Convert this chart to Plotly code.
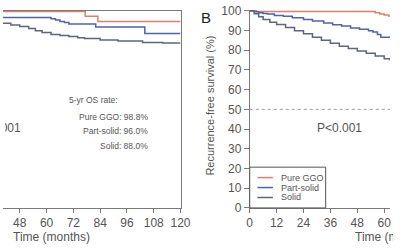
import plotly.graph_objects as go

# ---- Data ----
# Panel A (overall survival), visible part only (months 40-120)
os_ggo_t = [40, 77.3, 83.0, 120]
os_ggo_v = [99.6, 97.2, 94.6, 94.6]
os_part_t = [40, 62, 64, 66, 68, 70, 82, 104, 120]
os_part_v = [96.6, 96.0, 95.3, 94.6, 94.0, 93.3, 91.7, 88.5, 88.5]
os_solid_t = [40, 44, 48, 52, 55, 58, 62, 66, 70, 74, 77, 84, 92, 103, 112, 120]
os_solid_v = [93.6, 92.8, 92.0, 91.0, 89.9, 89.0, 88.0, 87.4, 86.9, 86.3, 85.9, 85.1, 84.6, 83.9, 83.7, 83.7]

# Panel B (recurrence-free survival), months 0-62.6
rfs_ggo_t = [0, 3, 54, 56, 58, 60, 62, 62.6]
rfs_ggo_v = [100, 99.6, 99.6, 99.0, 98.3, 97.8, 97.3, 97.3]
rfs_part_t = [0, 2, 4, 6, 8, 11, 15, 19, 24, 28, 33, 37, 41, 45, 49, 53, 55, 57, 58.5, 62.6]
rfs_part_v = [100, 99.5, 99.0, 98.6, 98.3, 97.6, 97.2, 96.4, 95.6, 94.8, 93.8, 92.9, 92.2, 91.3, 90.6, 89.8, 89.2, 88.0, 86.6, 86.4]
rfs_solid_t = [0, 2, 4, 6, 9, 12, 16, 20, 24, 28, 32, 36, 40, 44, 48, 52, 56, 60, 62.6]
rfs_solid_v = [100, 98.5, 97.0, 95.5, 94.2, 93.0, 91.5, 89.8, 88.3, 86.5, 85.0, 83.5, 82.0, 80.8, 79.6, 78.4, 77.0, 75.6, 74.8]

series_names = ["Pure GGO", "Part-solid", "Solid"]
os_labels = ["Pure GGO: 98.8%", "Part-solid: 96.0%", "Solid: 88.0%"]
x_ticks_a = [48, 60, 72, 84, 96, 108, 120]
x_ticks_b = [0, 12, 24, 36, 48, 60]
y_ticks_b = [0, 10, 20, 30, 40, 50, 60, 70, 80, 90, 100]

# ---- Styles ----
colors = ["#e0806a", "#5262ad", "#5f6580"]
FONT = "Liberation Sans, Arial, sans-serif"
AX = "#7a7a7a"
TXT = "#555555"
W, H = 400, 250

def px(x):
    return x / W

def py(y):
    return 1 - y / H

fig = go.Figure()

panel_a = [(os_ggo_t, os_ggo_v), (os_part_t, os_part_v), (os_solid_t, os_solid_v)]
panel_b = [(rfs_ggo_t, rfs_ggo_v), (rfs_part_t, rfs_part_v), (rfs_solid_t, rfs_solid_v)]
for name, c, (t, v) in zip(series_names, colors, panel_a):
    fig.add_trace(go.Scatter(x=t, y=v, mode="lines", line=dict(color=c, width=1.5, shape="hv"),
                             name=name, xaxis="x", yaxis="y", showlegend=False))
for name, c, (t, v) in zip(series_names, colors, panel_b):
    fig.add_trace(go.Scatter(x=t, y=v, mode="lines", line=dict(color=c, width=1.5, shape="hv"),
                             name=name, xaxis="x2", yaxis="y2", showlegend=False))

ydom_a = [py(213), py(5)]
ydom_b = [py(213), py(3.75)]

fig.update_layout(
    width=W, height=H, autosize=False, margin=dict(l=0, r=0, t=0, b=0, pad=0),
    paper_bgcolor="white", plot_bgcolor="white",
    font=dict(family=FONT, color=TXT),
    showlegend=False,
    xaxis=dict(domain=[0, px(183.5)], range=[40.5, 120], anchor="y",
               tickvals=x_ticks_a, ticks="outside", ticklen=4, tickcolor=AX,
               showline=True, linecolor=AX, linewidth=1, mirror=True,
               showgrid=False, zeroline=False, tickfont=dict(size=12, color=TXT),
               ticklabeloverflow="allow"),
    yaxis=dict(domain=ydom_a, range=[0, 100], anchor="x", side="right",
               showline=True, linecolor=AX, linewidth=1, showticklabels=False,
               ticks="", showgrid=False, zeroline=False),
    xaxis2=dict(domain=[px(255), 1], range=[0, 62.6], anchor="y2",
                tickvals=x_ticks_b, ticks="outside", ticklen=4, tickcolor=AX,
                showline=True, linecolor=AX, linewidth=1,
                showgrid=False, zeroline=False, tickfont=dict(size=12, color=TXT),
                ticklabeloverflow="allow"),
    yaxis2=dict(domain=ydom_b, range=[0, 100.6], anchor="x2", side="left",
                tickvals=y_ticks_b, ticks="outside", ticklen=5, tickcolor=AX,
                showline=True, linecolor=AX, linewidth=1,
                showgrid=False, zeroline=False, tickfont=dict(size=12, color=TXT),
                ticklabeloverflow="allow"),
)

# 50% reference line in panel B
fig.add_shape(type="line", xref="x2", yref="y2", x0=0, x1=62.6, y0=50, y1=50,
              line=dict(color="#9a9a9a", width=1, dash="dot"))

ann = []
def txt(text, x, y, size, xanchor="center", color=TXT, angle=0, width=None, align="center"):
    d = dict(text=text, x=px(x), y=py(y), xref="paper", yref="paper",
             xanchor=xanchor, yanchor="middle", showarrow=False, textangle=angle,
             font=dict(size=size, color=color, family=FONT), align=align)
    if width is not None:
        d["width"] = width
    ann.append(d)

txt("5-yr OS rate:", 66.5, 99, 8.5, "left")
for lab, yy in zip(os_labels, [117, 132, 148]):
    txt(lab, 152, yy, 8.5, "right")
# texts cut by the picture edge (as in the reference): clipped inside boxes ending at the edge
txt("P<0.001", 0, 129, 12, "left", width=16, align="right")
txt("P<0.001", 348, 129, 12)
txt("Time (months)", 50, 244, 12)
txt("Time (months)", 362, 244, 12, "left", width=38, align="left")
txt("B", 210, 12, 15, color="#222222")
txt("Recurrence-free survival (%)", 213, 105, 11, angle=-90)

# Legend box (panel B)
fig.add_shape(type="rect", xref="paper", yref="paper", x0=px(255), x1=px(333.5),
              y0=py(213), y1=py(170), line=dict(color="#555555", width=1), fillcolor="white",
              layer="above")
for name, c, yy in zip(series_names, colors, [181, 191.5, 202]):
    fig.add_shape(type="line", xref="paper", yref="paper", x0=px(263), x1=px(279),
                  y0=py(yy), y1=py(yy), line=dict(color=c, width=1.5), layer="above")
    txt(name, 285, yy, 9, "left")

fig.update_layout(annotations=ann)

post = ("document.documentElement.style.margin='0';document.documentElement.style.padding='0';"
        "document.body.style.margin='0';document.body.style.padding='0';"
        "document.documentElement.style.overflow='hidden';document.body.style.overflow='hidden';")
fig.write_html("out.html", config={"responsive": False, "displayModeBar": False}, post_script=post)
